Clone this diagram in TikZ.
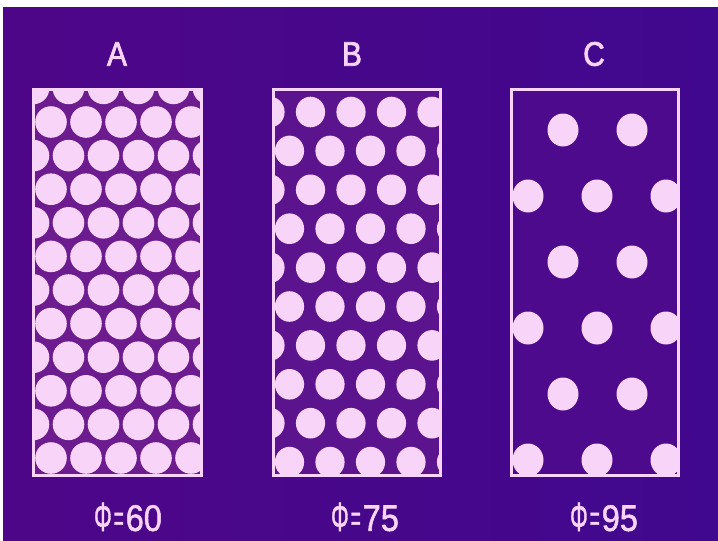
\documentclass[tikz,border=0pt]{standalone}
\usepackage{fontspec}
\usepackage{graphicx}
\setmainfont{Liberation Sans}
\newfontfamily\labfont{Liberation Sans}[FakeBold=1.5]
\newfontfamily\topfont{Liberation Sans}[FakeBold=2.2]
\definecolor{bgpurple}{RGB}{78,6,136}
\definecolor{bgpurpleR}{RGB}{64,8,142}
\definecolor{dotpink}{RGB}{248,212,248}
\definecolor{gapA}{RGB}{108,28,142}
\definecolor{gapB}{RGB}{92,20,142}
\definecolor{gapC}{RGB}{78,10,140}
\tikzset{
  framebox/.style={draw=dotpink,line width=3pt},
  dot/.style={fill=dotpink},
  toplabel/.style={text=dotpink,font=\topfont\fontsize{34}{34}\selectfont,inner sep=0pt,xscale=0.88},
  botlabel/.style={text=dotpink,font=\labfont\fontsize{37}{37}\selectfont,inner sep=0pt},
}
\newcommand{\philab}[1]{\scalebox{0.6}[1.1]{Φ}\hspace{2pt}\scalebox{0.46}[1]{=}\hspace{2pt}\scalebox{0.88}[1]{#1}}
\begin{document}
\begin{tikzpicture}[x=1pt,y=-1pt]
\useasboundingbox (0,0) rectangle (718,541);
\fill[white] (0,0) rectangle (718,541);
\shade[left color=bgpurple,right color=bgpurpleR] (3,7) rectangle (718,541);
% Panel A
\begin{scope}
\clip (33.5,89.5) rectangle (201.5,475.5);
\fill[gapA] (33.5,89.5) rectangle (201.5,475.5);
\foreach \i in {0,...,12}{
  \pgfmathsetmacro{\yy}{88.4+33.6*\i}
  \pgfmathtruncatemacro{\pp}{mod(\i,2)}
  \foreach \j in {-1,...,5}{
    \pgfmathsetmacro{\xx}{(\pp==1 ? 51 : 33.5)+35*\j}
    \fill[dot] (\xx,\yy) circle[radius=15.8];
  }
}
\end{scope}
\draw[framebox] (33.5,89.5) rectangle (201.5,475.5);
% Panel B
\begin{scope}
\clip (273.5,89.5) rectangle (440.5,475.5);
\fill[gapB] (273.5,89.5) rectangle (440.5,475.5);
\foreach \i in {1,...,10}{
  \pgfmathsetmacro{\yy}{112+38.9*(\i-1)}
  \pgfmathtruncatemacro{\pp}{mod(\i,2)}
  \foreach \j in {0,...,4}{
    \pgfmathsetmacro{\xx}{(\pp==1 ? 270 : 289.5)+40.5*\j}
    \fill[dot] (\xx,\yy) ellipse[x radius=14.6,y radius=15.3];
  }
}
\end{scope}
\draw[framebox] (273.5,89.5) rectangle (440.5,475.5);
% Panel C
\begin{scope}
\clip (511.5,89.5) rectangle (678.5,475.5);
\fill[gapC] (511.5,89.5) rectangle (678.5,475.5);
\foreach \k in {0,...,5}{
  \pgfmathsetmacro{\yy}{130+66*\k}
  \pgfmathtruncatemacro{\pp}{mod(\k,2)}
  \ifnum\pp=0
    \foreach \xx in {563,632}{\fill[dot] (\xx,\yy) ellipse[x radius=15.5,y radius=16.5];}
  \else
    \foreach \xx in {528,597,666}{\fill[dot] (\xx,\yy) ellipse[x radius=15.5,y radius=16.5];}
  \fi
}
\end{scope}
\draw[framebox] (511.5,89.5) rectangle (678.5,475.5);
% Labels
\node[toplabel] (labA) at (117,54) {A};
\node[toplabel] (labB) at (352,54) {B};
\node[toplabel] (labC) at (594,54) {C};
\node[botlabel] (phiA) at (128,517) {\philab{60}};
\node[botlabel] (phiB) at (365,517) {\philab{75}};
\node[botlabel] (phiC) at (604,517) {\philab{95}};
\end{tikzpicture}
\end{document}
